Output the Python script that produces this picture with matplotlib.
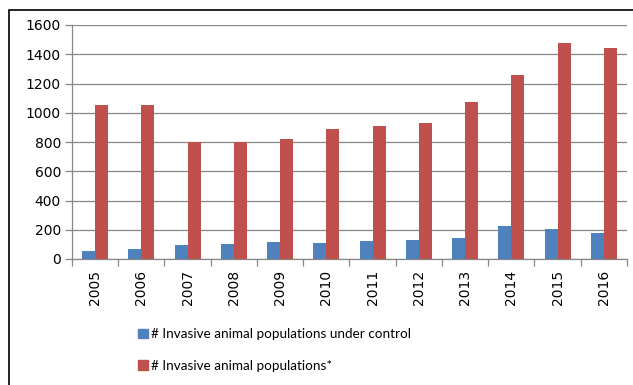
import numpy as np
import matplotlib
matplotlib.use('Agg')
import matplotlib.pyplot as plt
from matplotlib.patches import Rectangle, Patch

years = ['2005', '2006', '2007', '2008', '2009', '2010',
         '2011', '2012', '2013', '2014', '2015', '2016']
under_control = [57, 68, 96, 105, 114, 112, 123, 132, 141, 223, 205, 178]
populations = [1050, 1050, 800, 800, 820, 890, 910, 930, 1075, 1255, 1475, 1440]

label_ctrl = '# Invasive animal populations under control'
label_pop = '# Invasive animal populations*'

plt.rcParams['font.family'] = ['DejaVu Sans']

W, H = 633, 385
fig = plt.figure(figsize=(W / 100, H / 100), dpi=100)
ax = fig.add_axes([72 / W, 1 - 259 / H, (627 - 72) / W, (259 - 25) / H])

x = np.arange(len(years))
bw = 0.28
ax.bar(x - bw / 2, under_control, bw, color='#4F81BD', zorder=3)
ax.bar(x + bw / 2, populations, bw, color='#C0504D', zorder=3)

ax.set_xlim(-0.5, len(years) - 0.5)
ax.set_ylim(0, 1600)
ax.set_yticks(range(0, 1601, 200))
ax.yaxis.grid(True, color='#878787', linewidth=0.9, zorder=0)

# category labels in the middle, tick marks between categories
ax.set_xticks(x)
ax.set_xticklabels(years, rotation=90, fontsize=10)
ax.set_xticks(np.arange(-0.5, len(years)), minor=True)
ax.tick_params(axis='x', which='major', length=0, pad=8)
ax.tick_params(axis='x', which='minor', length=5, color='#878787', width=0.9)
ax.tick_params(axis='y', length=5, color='#878787', width=0.9, labelsize=10, pad=3)

for s in ['top', 'right']:
    ax.spines[s].set_visible(False)
for s in ['left', 'bottom']:
    ax.spines[s].set_color('#878787')
    ax.spines[s].set_linewidth(0.9)

handles = [Patch(color='#4F81BD', label=label_ctrl),
           Patch(color='#C0504D', label=label_pop)]
fig.legend(handles=handles, loc='upper left', bbox_to_anchor=(126 / W, 1 - 316 / H),
           frameon=False, handlelength=0.7, handleheight=0.7,
           handletextpad=0.25, labelspacing=1.45, prop={'family': ['Lato'], 'size': 9.7})

# outer chart frame
fig.patches.append(Rectangle((9 / W, -0.1), 1.2, 1 - 10 / H + 0.1,
                             transform=fig.transFigure, fill=False,
                             edgecolor='black', linewidth=1.2))

fig.savefig('out.png', dpi=100)
